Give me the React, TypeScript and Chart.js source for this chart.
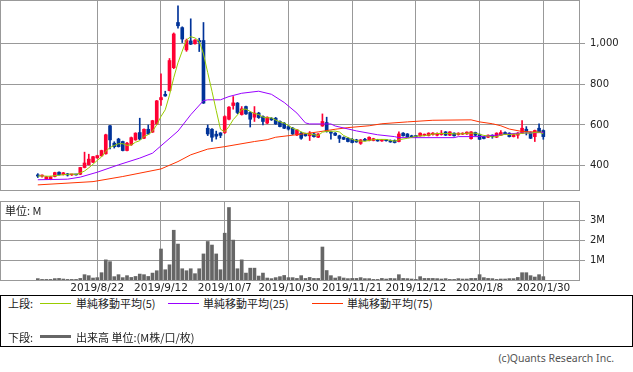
import React, { useEffect, useRef } from "react";
import { Chart, registerables } from "chart.js";
Chart.register(...registerables);

// ---- data ----
const TICK_IDX = [14, 29, 44, 59, 74, 89, 104, 119];
const TICK_LABELS = ["2019/8/22", "2019/9/12", "2019/10/7", "2019/10/30", "2019/11/21", "2019/12/12", "2020/1/8", "2020/1/30"];

const OPEN = [
  356, 350, 337, 337, 348, 369, 357, 361, 356, 357,
  359, 392, 406, 418, 439, 449, 459, 596, 511, 531,
  519, 475, 503, 527, 563, 535, 579, 565, 605, 723,
  750, 768, 880, 1101, 1076, 967, 1011, 997, 1013, 1013,
  584, 579, 555, 561, 563, 628, 695, 707, 651, 690,
  661, 638, 658, 641, 609, 633, 633, 617, 609, 592,
  584, 551, 560, 555, 547, 556, 540, 595, 612, 566,
  560, 547, 539, 535, 530, 527, 510, 530, 524, 524,
  527, 522, 527, 524, 524, 519, 560, 556, 547, 545,
  547, 550, 548, 553, 550, 553, 566, 550, 560, 553,
  555, 556, 533, 563, 553, 543, 540, 550, 540, 550,
  563, 560, 543, 550, 560, 579, 563, 543, 584, 573,
];
const HIGH = [
  362, 356, 349, 350, 369, 371, 368, 363, 358, 359,
  393, 467, 457, 447, 452, 477, 555, 598, 518, 535,
  521, 515, 541, 562, 633, 581, 600, 623, 720, 850,
  765, 925, 1050, 1182, 1080, 1020, 1119, 1018, 1024, 1101,
  600, 582, 570, 563, 645, 690, 739, 710, 690, 692,
  664, 690, 662, 645, 640, 636, 637, 620, 612, 598,
  588, 578, 565, 560, 568, 560, 558, 654, 638, 570,
  563, 550, 542, 538, 533, 530, 529, 535, 542, 535,
  530, 530, 530, 527, 527, 566, 563, 558, 550, 548,
  562, 556, 562, 563, 562, 573, 568, 568, 562, 562,
  562, 567, 568, 565, 556, 545, 552, 552, 562, 572,
  566, 562, 554, 563, 622, 592, 566, 575, 605, 576,
];
const LOW = [
  343, 345, 334, 332, 346, 355, 355, 350, 353, 354,
  357, 390, 404, 416, 437, 447, 457, 483, 487, 492,
  473, 473, 500, 525, 528, 533, 554, 563, 603, 695,
  740, 766, 875, 1073, 1003, 960, 993, 995, 959, 705,
  548, 519, 531, 538, 558, 625, 677, 655, 648, 652,
  590, 617, 632, 600, 606, 622, 603, 590, 582, 575,
  553, 548, 530, 545, 524, 540, 538, 593, 565, 530,
  548, 514, 528, 517, 512, 515, 505, 522, 522, 522,
  520, 520, 521, 515, 512, 517, 545, 538, 538, 540,
  545, 547, 546, 550, 547, 550, 548, 548, 545, 550,
  553, 554, 531, 548, 528, 532, 538, 535, 538, 548,
  554, 541, 541, 535, 558, 551, 533, 519, 562, 530,
];
const CLOSE = [
  350, 352, 347, 347, 367, 357, 366, 355, 357, 356,
  392, 414, 433, 445, 450, 475, 552, 527, 494, 494,
  475, 511, 538, 560, 531, 579, 556, 621, 718, 734,
  742, 915, 1045, 1085, 1020, 1013, 995, 1015, 1006, 707,
  556, 540, 545, 549, 641, 687, 708, 661, 679, 654,
  628, 658, 636, 617, 638, 625, 605, 592, 584, 580,
  556, 576, 535, 547, 560, 543, 556, 617, 568, 560,
  550, 534, 530, 519, 514, 517, 527, 524, 540, 533,
  522, 528, 523, 517, 514, 556, 547, 540, 540, 543,
  560, 553, 560, 560, 558, 560, 550, 566, 547, 560,
  560, 565, 566, 550, 530, 534, 550, 543, 560, 563,
  556, 543, 553, 560, 584, 566, 535, 573, 565, 543,
];
// volume in millions
const VOLUME = [
  0.07, 0.03, 0.03, 0.03, 0.07, 0.08, 0.05, 0.03, 0.03, 0.03,
  0.08, 0.27, 0.22, 0.10, 0.12, 0.37, 1.02, 0.93, 0.17, 0.27,
  0.12, 0.22, 0.13, 0.18, 0.30, 0.27, 0.18, 0.35, 0.47, 1.57,
  0.52, 0.77, 2.52, 1.82, 0.57, 0.47, 0.57, 0.32, 0.57, 1.32,
  1.95, 1.77, 1.32, 0.52, 2.37, 3.67, 2.02, 0.57, 1.02, 0.35,
  0.60, 0.60, 0.20, 0.35, 0.10, 0.07, 0.12, 0.17, 0.23, 0.12,
  0.12, 0.08, 0.22, 0.08, 0.13, 0.08, 0.08, 1.67, 0.48, 0.22,
  0.10, 0.17, 0.10, 0.07, 0.08, 0.08, 0.12, 0.07, 0.07, 0.03,
  0.03, 0.08, 0.05, 0.08, 0.07, 0.27, 0.08, 0.07, 0.05, 0.03,
  0.17, 0.08, 0.08, 0.08, 0.07, 0.05, 0.07, 0.03, 0.03, 0.07,
  0.05, 0.05, 0.08, 0.08, 0.27, 0.12, 0.08, 0.07, 0.03, 0.05,
  0.05, 0.07, 0.07, 0.13, 0.37, 0.37, 0.22, 0.15, 0.27, 0.17,
];
// moving averages (index -> value)
const MA25_IDX = [0, 7, 10, 14, 19, 24, 27, 29, 33, 36, 39, 40, 43, 45, 48, 52, 55, 58, 61, 63, 64, 69, 70, 75, 80, 84, 85, 98, 99, 104, 109, 113, 119];
const MA25_VAL = [332, 335, 345, 369, 405, 438, 462, 498, 570, 650, 719, 723, 723, 739, 755, 765, 750, 710, 658, 610, 605, 605, 595, 571, 552, 543, 538, 538, 543, 543, 552, 560, 563];
const MA75_IDX = [0, 13, 20, 29, 33, 36, 40, 44, 51, 54, 56, 62, 66, 70, 73, 78, 81, 87, 93, 102, 104, 107, 109, 111, 114, 119];
const MA75_VAL = [307, 323, 348, 385, 421, 454, 482, 494, 519, 528, 540, 555, 566, 579, 587, 596, 606, 615, 623, 625, 615, 606, 596, 580, 568, 564];

const PRICE_TICKS = [400, 600, 800, 1000];
const VOL_TICKS = [1, 2, 3];

// ---- styles ----
const GRID = "#999999";
const UP = "#ff0033";
const DOWN = "#003399";
const C_MA5 = "#99cc00";
const C_MA25 = "#9900ff";
const C_MA75 = "#ff3300";
const C_VOL = "#666666";
const TICK_FONT = { family: "DejaVu Sans", size: 10 };
const XTICK_FONT = { family: "DejaVu Sans", size: 10.5 };
const TICK_COLOR = "#222";
const JP = "'Noto Sans CJK JP', 'Noto Sans', sans-serif";
const X_MIN = -8.9;
const X_MAX = 127.4;

const MA5 = CLOSE.map((_, i) => {
  const s = CLOSE.slice(Math.max(0, i - 4), i + 1);
  return s.reduce((a, b) => a + b, 0) / s.length;
});

const framePlugin = {
  id: "frame",
  beforeDatasetsDraw(chart: any) {
    const { ctx, chartArea: a } = chart;
    ctx.save();
    ctx.strokeStyle = GRID;
    ctx.lineWidth = 1;
    const l = Math.floor(a.left) + 0.5;
    const t = Math.floor(a.top) + 0.5;
    const r = Math.floor(a.right) + 0.5;
    const b = Math.floor(a.bottom) + 0.5;
    ctx.strokeRect(l, t, r - l, b - t);
    ctx.restore();
  },
};

function xScale(showLabels: boolean, height: number) {
  return {
    type: "linear",
    min: X_MIN,
    max: X_MAX,
    offset: false,
    afterBuildTicks: (s: any) => {
      s.ticks = TICK_IDX.map((v) => ({ value: v }));
    },
    afterFit: (s: any) => {
      s.height = height;
      s.paddingLeft = 0;
      s.paddingRight = 0;
    },
    grid: { color: GRID, drawTicks: false, offset: false, lineWidth: 1 },
    border: { display: false },
    ticks: {
      display: showLabels,
      autoSkip: false,
      maxRotation: 0,
      padding: 2,
      color: TICK_COLOR,
      font: XTICK_FONT,
      callback: (v: any) => {
        const k = TICK_IDX.indexOf(Number(v));
        return k >= 0 ? TICK_LABELS[k] : "";
      },
    },
  };
}

function yScale(min: number, max: number, ticks: number[], fmt: (v: number) => string) {
  return {
    type: "linear",
    position: "right",
    min,
    max,
    afterBuildTicks: (s: any) => {
      s.ticks = ticks.map((v) => ({ value: v }));
    },
    afterFit: (s: any) => {
      s.width = 54;
      s.paddingTop = 0;
      s.paddingBottom = 0;
    },
    grid: { color: GRID, drawTicks: true, tickLength: 6, lineWidth: 1 },
    border: { display: false },
    ticks: {
      padding: 5,
      color: TICK_COLOR,
      font: TICK_FONT,
      callback: (v: any) => fmt(Number(v)),
    },
  };
}

export default function App() {
  const mainRef = useRef<HTMLCanvasElement>(null);
  const volRef = useRef<HTMLCanvasElement>(null);

  useEffect(() => {
    const idx = OPEN.map((_, i) => i);
    const colors = idx.map((i) => (CLOSE[i] >= OPEN[i] ? UP : DOWN));

    const main = new Chart(mainRef.current as HTMLCanvasElement, {
      type: "bar",
      data: {
        datasets: [
          {
            type: "line",
            label: "MA5",
            data: idx.map((i) => ({ x: i, y: MA5[i] })),
            borderColor: C_MA5,
            borderWidth: 1,
            pointRadius: 0,
            tension: 0,
            order: 0,
          } as any,
          {
            type: "line",
            label: "MA25",
            data: MA25_IDX.map((x, k) => ({ x, y: MA25_VAL[k] })),
            borderColor: C_MA25,
            borderWidth: 1,
            pointRadius: 0,
            tension: 0,
            order: 0,
          } as any,
          {
            type: "line",
            label: "MA75",
            data: MA75_IDX.map((x, k) => ({ x, y: MA75_VAL[k] })),
            borderColor: C_MA75,
            borderWidth: 1,
            pointRadius: 0,
            tension: 0,
            order: 0,
          } as any,
          {
            type: "bar",
            label: "body",
            data: idx.map((i) => ({ x: i, y: [OPEN[i], CLOSE[i]] })),
            backgroundColor: colors,
            barThickness: 3,
            minBarLength: 1,
            grouped: false,
            order: 1,
          } as any,
          {
            type: "bar",
            label: "wick",
            data: idx.map((i) => ({ x: i, y: [LOW[i], HIGH[i]] })),
            backgroundColor: colors,
            barThickness: 1,
            grouped: false,
            order: 2,
          } as any,
        ],
      },
      options: {
        responsive: false,
        animation: false,
        events: [],
        layout: { padding: 0 },
        plugins: { legend: { display: false }, tooltip: { enabled: false } },
        scales: {
          x: xScale(false, 1) as any,
          y: yScale(282, 1211, PRICE_TICKS, (v) => v.toLocaleString("en-US")) as any,
        },
      },
      plugins: [framePlugin],
    });

    const vol = new Chart(volRef.current as HTMLCanvasElement, {
      type: "bar",
      data: {
        datasets: [
          {
            label: "volume",
            data: idx.map((i) => ({ x: i, y: VOLUME[i] })),
            backgroundColor: C_VOL,
            barThickness: 3,
            grouped: false,
          } as any,
        ],
      },
      options: {
        responsive: false,
        animation: false,
        events: [],
        layout: { padding: { top: 6, left: 0, right: 0, bottom: 0 } },
        plugins: { legend: { display: false }, tooltip: { enabled: false } },
        scales: {
          x: xScale(true, 14) as any,
          y: yScale(0, 4, VOL_TICKS, (v) => v + "M") as any,
        },
      },
      plugins: [framePlugin],
    });

    return () => {
      main.destroy();
      vol.destroy();
    };
  }, []);

  const txt: React.CSSProperties = {
    position: "absolute",
    fontFamily: JP,
    fontSize: 11,
    lineHeight: "14px",
    color: "#222",
    whiteSpace: "nowrap",
  };
  const line = (left: number, top: number, color: string, h: number): React.CSSProperties => ({
    position: "absolute",
    left,
    top,
    width: 31,
    height: h,
    background: color,
  });

  return (
    <div style={{ position: "absolute", left: 0, top: 0, width: 633, height: 372, background: "#fff", overflow: "hidden" }}>
      <canvas ref={mainRef} width={633} height={191} style={{ position: "absolute", left: 0, top: 0, display: "block" }} />
      <canvas ref={volRef} width={633} height={99} style={{ position: "absolute", left: 0, top: 195, display: "block" }} />
      <div style={{ ...txt, left: 5, top: 203 }}>単位: M</div>

      <div style={{ position: "absolute", left: 0, top: 295, width: 631, height: 50, border: "1px solid #000" }} />
      <div style={{ ...txt, left: 8, top: 296 }}>上段:</div>
      <div style={line(40, 303, C_MA5, 1)} />
      <div style={{ ...txt, left: 76, top: 296 }}>単純移動平均(5)</div>
      <div style={line(168, 303, C_MA25, 1)} />
      <div style={{ ...txt, left: 203, top: 296 }}>単純移動平均(25)</div>
      <div style={line(312, 303, C_MA75, 1)} />
      <div style={{ ...txt, left: 347, top: 296 }}>単純移動平均(75)</div>

      <div style={{ ...txt, left: 8, top: 330 }}>下段:</div>
      <div style={line(40, 335, C_VOL, 3)} />
      <div style={{ ...txt, left: 76, top: 330 }}>出来高 単位:(M株/口/枚)</div>

      <div style={{ ...txt, right: 19, top: 351, fontFamily: "'Noto Sans', sans-serif", fontSize: 10.5, color: "#555" }}>(c)Quants Research Inc.</div>
    </div>
  );
}
